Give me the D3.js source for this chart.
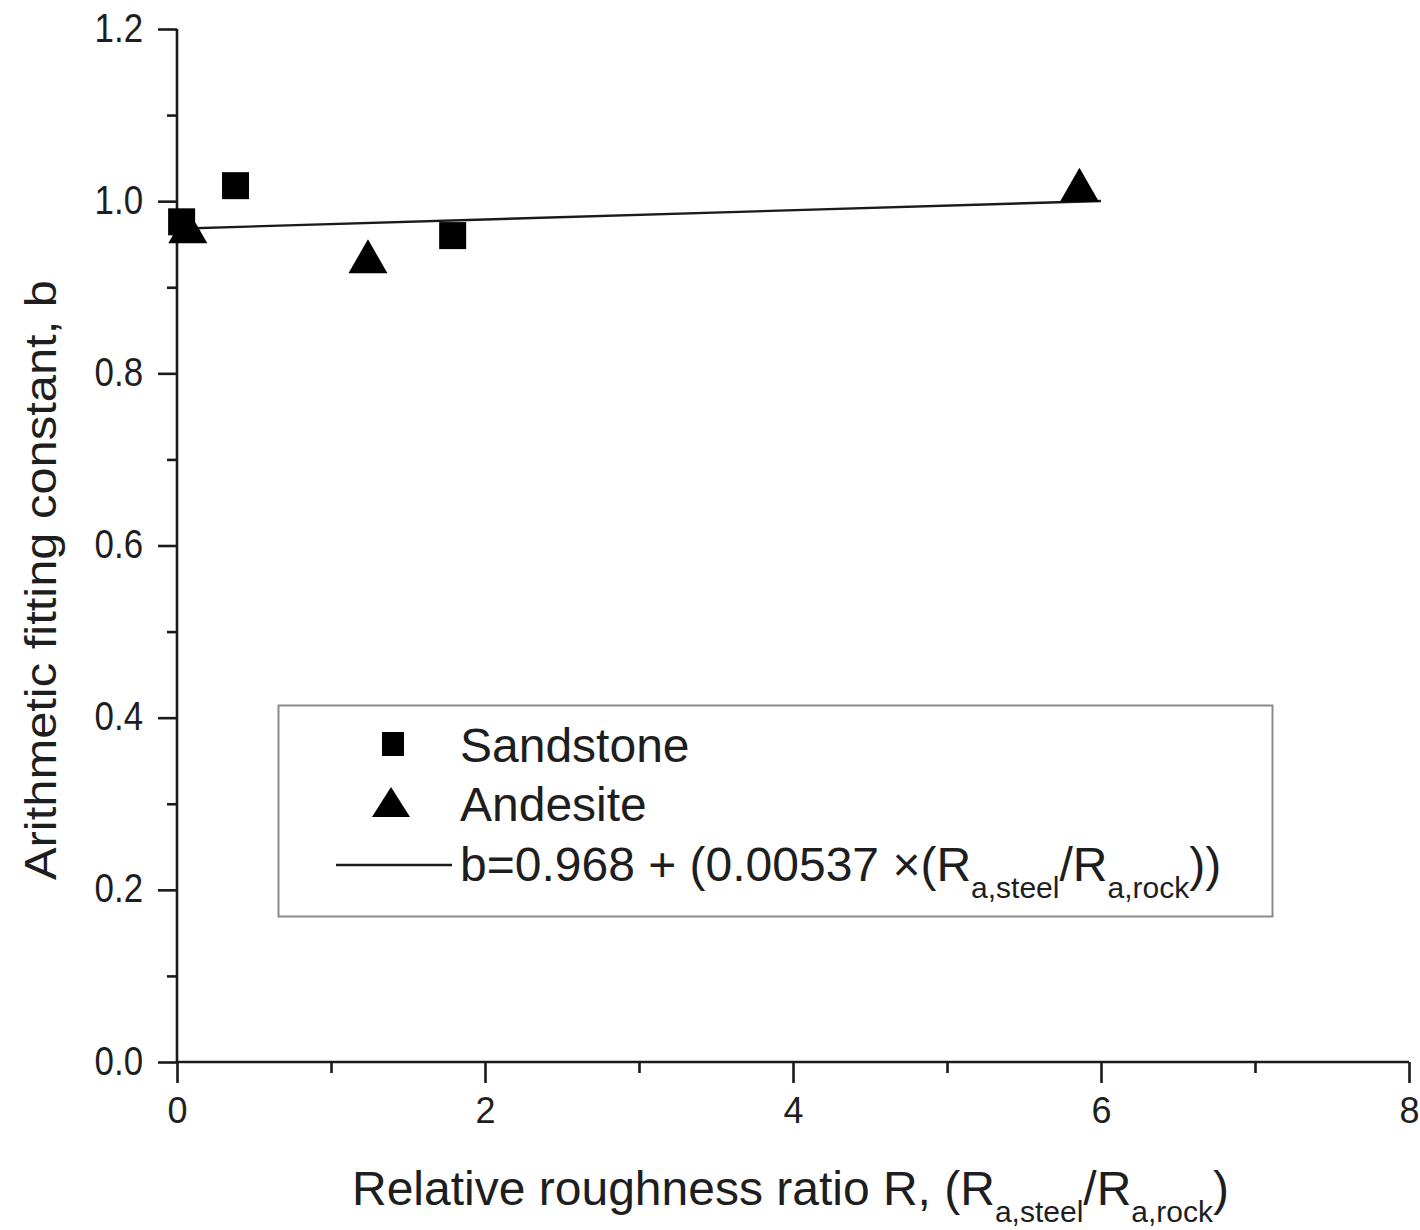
<!DOCTYPE html>
<html>
<head>
<meta charset="utf-8">
<script src="https://cdn.jsdelivr.net/npm/d3@7"></script>
<style>
  html, body { margin: 0; padding: 0; background: #fff; }
  svg { display: block; font-family: "Liberation Sans", Arial, sans-serif; }
</style>
</head>
<body>
<svg id="chart" width="1420" height="1230"></svg>
<script>
// Measured points: relative roughness ratio R vs. fitting constant b
const sandstoneR = [0.03, 0.38, 1.79];
const sandstoneB = [0.976, 1.018, 0.960];
const andesiteR = [0.07, 1.24, 5.86];
const andesiteB = [0.971, 0.936, 1.019];

// Linear fit b = intercept + slope * R, drawn over R in [0, 6]
const fitIntercept = 0.968;
const fitSlope = 0.00537;
const fitRange = [0, 6];

const xMajorTicks = [0, 2, 4, 6, 8];
const xMinorTicks = [1, 3, 5, 7];
const yMajorTicks = [0.0, 0.2, 0.4, 0.6, 0.8, 1.0, 1.2];
const yMinorTicks = [0.1, 0.3, 0.5, 0.7, 0.9, 1.1];

const svg = d3.select("#chart");
const ink = "#1a1a1a";
const textInk = "#1e1e1e";

const x = d3.scaleLinear().domain([0, 8]).range([177, 1409]);
const y = d3.scaleLinear().domain([0, 1.2]).range([1062, 29]);

// Axes: bottom and left only, ticks pointing outward
const xAxisMajor = d3.axisBottom(x).tickValues(xMajorTicks).tickSize(21).tickPadding(6)
  .tickFormat(d3.format("d"));
const xAxisMinor = d3.axisBottom(x).tickValues(xMinorTicks).tickSize(11).tickFormat("");
const yAxisMajor = d3.axisLeft(y).tickValues(yMajorTicks).tickSize(19).tickPadding(16)
  .tickFormat(d3.format(".1f"));
const yAxisMinor = d3.axisLeft(y).tickValues(yMinorTicks).tickSize(10).tickFormat("");

function styleAxis(g) {
  g.select(".domain").remove();
  g.selectAll("line").attr("stroke", ink).attr("stroke-width", 2.6);
  g.selectAll("text").attr("fill", textInk).style("font-size", "36px")
    .style("font-family", "\"Liberation Sans\", Arial, sans-serif");
}

const gx = svg.append("g").attr("transform", `translate(0,${y(0)})`);
gx.append("g").call(xAxisMajor).call(styleAxis);
gx.append("g").call(xAxisMinor).call(styleAxis);
gx.selectAll("text").attr("y", 61).attr("dy", null);

const gy = svg.append("g").attr("transform", `translate(${x(0)},0)`);
gy.append("g").call(yAxisMajor).call(styleAxis);
gy.append("g").call(yAxisMinor).call(styleAxis);
// y labels are drawn slightly taller than wide
gy.selectAll(".tick text").attr("dy", "0.3em").attr("transform", "scale(0.97,1.12)");

// Axis lines
svg.append("line").attr("x1", x(0)).attr("x2", x(8)).attr("y1", y(0)).attr("y2", y(0))
  .attr("stroke", ink).attr("stroke-width", 2.6);
svg.append("line").attr("x1", x(0)).attr("x2", x(0)).attr("y1", y(1.2)).attr("y2", y(0))
  .attr("stroke", ink).attr("stroke-width", 2.6);

// Fit line
const fitLine = d3.line().x(d => x(d)).y(d => y(fitIntercept + fitSlope * d));
svg.append("path").datum(fitRange).attr("d", fitLine)
  .attr("fill", "none").attr("stroke", ink).attr("stroke-width", 2.4);

// Markers
const squareSide = 27;
const triW = 39, triH = 34;
function triPath(cx, cy, w, h) {
  return `M${cx},${cy - h / 2}L${cx + w / 2},${cy + h / 2}L${cx - w / 2},${cy + h / 2}Z`;
}

svg.append("g").selectAll("rect").data(d3.zip(sandstoneR, sandstoneB)).join("rect")
  .attr("x", d => x(d[0]) - squareSide / 2)
  .attr("y", d => y(d[1]) - squareSide / 2)
  .attr("width", squareSide).attr("height", squareSide)
  .attr("fill", "#000");

svg.append("g").selectAll("path").data(d3.zip(andesiteR, andesiteB)).join("path")
  .attr("d", d => triPath(x(d[0]), y(d[1]), triW, triH))
  .attr("fill", "#000");

// Legend
const legend = svg.append("g");
legend.append("rect").attr("x", 278.5).attr("y", 705.5).attr("width", 994).attr("height", 211)
  .attr("fill", "#fff").attr("stroke", "#8a8a8a").attr("stroke-width", 2);

legend.append("rect").attr("x", 393 - 11).attr("y", 744 - 12).attr("width", 22).attr("height", 24)
  .attr("fill", "#000");
legend.append("path").attr("d", triPath(391, 802, 38, 30)).attr("fill", "#000");
legend.append("line").attr("x1", 336).attr("x2", 452).attr("y1", 865).attr("y2", 865)
  .attr("stroke", ink).attr("stroke-width", 2.4);

const legendFont = "48px";
const subFont = "30px";
legend.append("text").attr("x", 460).attr("y", 762).style("font-size", legendFont)
  .attr("fill", textInk).text("Sandstone");
legend.append("text").attr("x", 460).attr("y", 821).style("font-size", legendFont)
  .attr("fill", textInk).text("Andesite");

const eq = legend.append("text").attr("x", 460).attr("y", 881).style("font-size", legendFont)
  .attr("fill", textInk);
eq.append("tspan").text("b=0.968 + (0.00537 ");
eq.append("tspan").text("×(R");
eq.append("tspan").attr("dy", 17).style("font-size", subFont).text("a,steel");
eq.append("tspan").attr("dy", -17).text("/R");
eq.append("tspan").attr("dy", 17).style("font-size", subFont).text("a,rock");
eq.append("tspan").attr("dy", -17).text("))");

// Axis titles
const xt = svg.append("text").attr("x", 352).attr("y", 1205).style("font-size", "48px")
  .attr("fill", textInk);
xt.append("tspan").text("Relative roughness ratio R, (R");
xt.append("tspan").attr("dy", 17).style("font-size", subFont).text("a,steel");
xt.append("tspan").attr("dy", -17).text("/R");
xt.append("tspan").attr("dy", 17).style("font-size", subFont).text("a,rock");
xt.append("tspan").attr("dy", -17).text(")");

svg.append("text")
  .attr("transform", `translate(56,${580}) rotate(-90)`)
  .attr("text-anchor", "middle").style("font-size", "44px").attr("fill", textInk)
  .attr("textLength", 600).attr("lengthAdjust", "spacingAndGlyphs")
  .text("Arithmetic fitting constant, b");
</script>
</body>
</html>
